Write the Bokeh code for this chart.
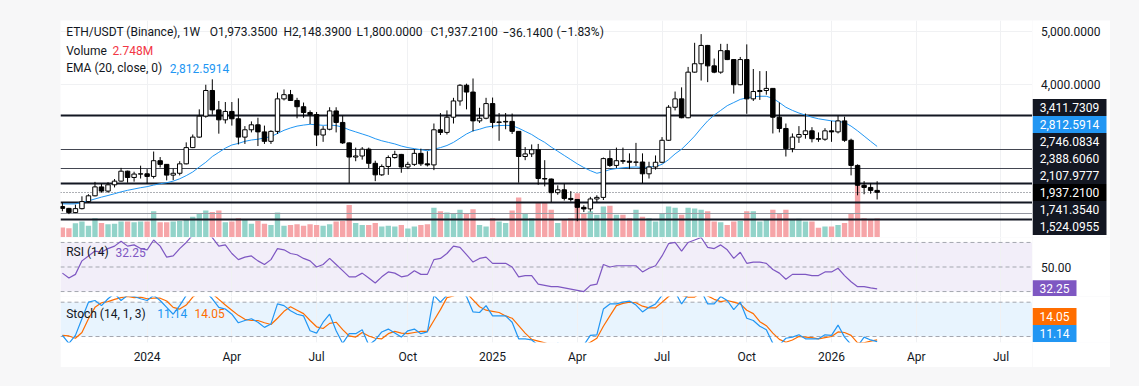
from bokeh.plotting import figure
from bokeh.models import Range1d, FixedTicker, Span, Label, BoxAnnotation, ColumnDataSource, Spacer
from bokeh.layouts import column, row
from bokeh.core.properties import value
from bokeh.embed import file_html
from bokeh.resources import INLINE

# ---------------- data (weekly bars, first bar = week of 2023-10-02) ----------------
first_week = "2023-10-02"
opens = [1665, 1630, 1550, 1625, 1760, 1870, 2040, 1960, 2080, 2150,
         2340, 2220, 2285, 2290, 2240, 2540, 2470, 2265, 2300, 2480,
         2790, 2990, 3390, 3880, 3510, 3320, 3480, 3340, 2990, 3130,
         3225, 3090, 2910, 3100, 3720, 3800, 3690, 3570, 3460, 3420,
         3030, 3140, 3490, 3270, 2880, 2610, 2630, 2760, 2490, 2270,
         2430, 2600, 2660, 2420, 2470, 2680, 2480, 2460, 3130, 3080,
         3370, 3680, 3980, 3850, 3300, 3350, 3630, 3270, 3280, 3290,
         3100, 2620, 2670, 2750, 2200, 2190, 1930, 1985, 1820, 1800,
         1650, 1620, 1810, 1840, 2580, 2450, 2540, 2530, 2510, 2515,
         2290, 2420, 2510, 2930, 3560, 3720, 3360, 4230, 4390, 4740,
         4350, 4230, 4640, 4470, 3990, 4470, 3720, 3860, 3880, 3920,
         3370, 3155, 2770, 2990, 3040, 3110, 2960, 2950, 3110, 3090,
         3300, 2930, 2450, 2070, 2030, 1973.35]
highs = [1745, 1640, 1700, 1860, 1900, 2136, 2100, 2130, 2190, 2403,
         2350, 2330, 2445, 2380, 2715, 2610, 2475, 2390, 2530, 2890,
         3040, 3520, 3990, 4093, 3680, 3660, 3660, 3730, 3200, 3290,
         3360, 3210, 3120, 3840, 3900, 3890, 3740, 3650, 3500, 3470,
         3200, 3560, 3560, 3400, 2890, 2790, 2800, 2790, 2540, 2470,
         2640, 2730, 2670, 2520, 2760, 2770, 2720, 3250, 3450, 3500,
         3740, 4000, 4010, 4109, 3550, 3740, 3745, 3450, 3450, 3440,
         3100, 2800, 2850, 2860, 2550, 2200, 2070, 2100, 1960, 1810,
         1690, 1850, 1880, 2600, 2740, 2790, 2790, 2680, 2880, 2680,
         2520, 2640, 2990, 3600, 3860, 3940, 4330, 4790, 4956, 4750,
         4490, 4770, 4770, 4480, 4520, 4760, 4290, 4250, 4250, 3920,
         3650, 3250, 3060, 3200, 3440, 3180, 3080, 3160, 3300, 3400,
         3380, 2960, 2470, 2150, 2110, 2148.39]
lows = [1575, 1521, 1540, 1610, 1740, 1860, 1930, 1930, 2030, 2140,
        2120, 2140, 2200, 2100, 2200, 2410, 2165, 2170, 2260, 2470,
        2780, 2980, 3360, 3420, 3056, 3250, 3210, 2850, 2860, 3080,
        2820, 2860, 2860, 3050, 3690, 3680, 3350, 3360, 3240, 2820,
        2900, 3120, 3080, 2860, 2111, 2530, 2560, 2400, 2150, 2250,
        2270, 2580, 2310, 2380, 2440, 2440, 2430, 2360, 3030, 3040,
        3250, 3590, 3520, 3100, 3260, 3330, 3160, 2920, 3140, 3050,
        2120, 2550, 2610, 2080, 2050, 1750, 1890, 1780, 1760, 1385,
        1560, 1570, 1750, 1790, 2420, 2400, 2480, 2380, 2440, 2110,
        2200, 2370, 2490, 2920, 3500, 3350, 3350, 4220, 4070, 4040,
        4210, 4200, 4460, 3820, 3980, 3435, 3680, 3700, 3800, 3060,
        3080, 2620, 2700, 2880, 2960, 2890, 2900, 2920, 2900, 3060,
        2900, 2260, 1880, 1900, 1910, 1800.0]
closes = [1630, 1550, 1625, 1760, 1870, 2040, 1960, 2080, 2150, 2340,
          2220, 2285, 2290, 2240, 2540, 2470, 2265, 2300, 2480, 2790,
          2990, 3390, 3880, 3510, 3320, 3480, 3340, 2990, 3130, 3225,
          3090, 2910, 3100, 3720, 3800, 3690, 3570, 3460, 3420, 3030,
          3140, 3490, 3270, 2880, 2610, 2630, 2760, 2490, 2270, 2430,
          2600, 2660, 2420, 2470, 2680, 2480, 2460, 3130, 3080, 3370,
          3680, 3980, 3850, 3300, 3350, 3630, 3270, 3280, 3290, 3100,
          2620, 2670, 2750, 2200, 2190, 1930, 1985, 1820, 1800, 1650,
          1620, 1810, 1840, 2580, 2450, 2540, 2530, 2510, 2515, 2290,
          2420, 2510, 2930, 3560, 3720, 3360, 4230, 4390, 4740, 4350,
          4230, 4640, 4470, 3990, 4470, 3720, 3860, 3880, 3920, 3370,
          3155, 2770, 2990, 3040, 3110, 2960, 2950, 3110, 3090, 3300,
          2930, 2450, 2070, 2030, 1973.35, 1937.21]
volume_m = [1.45, 1.35, 2.07, 2.3, 1.7, 2.8, 2.1, 1.9, 2.0, 2.3,
            2.3, 2.2, 2.3, 2.3, 3.8, 2.2, 2.2, 2.3, 2.4, 2.6,
            3.0, 3.5, 3.9, 3.7, 3.9, 2.2, 2.3, 2.8, 2.6, 2.0,
            2.4, 2.0, 1.8, 3.6, 1.7, 1.8, 1.9, 1.7, 1.9, 1.8,
            1.7, 1.9, 2.3, 2.4, 4.7, 2.1, 1.8, 1.8, 2.1, 1.6,
            1.7, 1.6, 1.8, 1.3, 1.6, 1.8, 1.9, 4.3, 3.8, 3.6,
            3.5, 4.0, 3.4, 4.1, 1.8, 1.6, 2.8, 2.3, 2.1, 3.9,
            5.8, 3.5, 2.8, 5.0, 5.0, 4.0, 2.1, 2.6, 2.8, 6.4,
            3.5, 3.8, 3.3, 4.5, 4.6, 3.3, 3.3, 2.8, 4.0, 3.0,
            2.8, 2.3, 3.4, 4.5, 4.3, 3.3, 4.3, 4.2, 4.0, 3.8,
            2.3, 2.2, 1.8, 2.3, 2.4, 3.8, 3.8, 2.3, 2.6, 4.0,
            3.5, 4.0, 2.6, 2.7, 2.3, 2.3, 1.4, 1.6, 1.6, 1.8,
            2.1, 3.4, 7.5, 2.8, 2.6, 2.748]
ema20 = [1717, 1714, 1716, 1745, 1775, 1810, 1845, 1876, 1910, 1945,
         1975, 2000, 2025, 2045, 2075, 2100, 2120, 2150, 2195, 2255,
         2325, 2420, 2510, 2620, 2700, 2780, 2840, 2870, 2910, 2935,
         2950, 2975, 3000, 3060, 3120, 3165, 3200, 3220, 3235, 3225,
         3215, 3220, 3210, 3180, 3130, 3090, 3050, 3010, 2960, 2920,
         2890, 2860, 2820, 2790, 2770, 2750, 2730, 2760, 2790, 2830,
         2890, 2970, 3050, 3110, 3140, 3180, 3200, 3210, 3215, 3210,
         3160, 3100, 3040, 2960, 2890, 2800, 2720, 2640, 2560, 2480,
         2410, 2350, 2300, 2330, 2370, 2390, 2405, 2415, 2420, 2410,
         2420, 2430, 2470, 2560, 2670, 2760, 2880, 3010, 3160, 3300,
         3410, 3500, 3590, 3650, 3710, 3740, 3760, 3770, 3770, 3730,
         3650, 3560, 3500, 3450, 3410, 3370, 3340, 3320, 3300, 3290,
         3270, 3200, 3110, 3010, 2910, 2812.5914]
rsi14 = [45, 41, 44, 55, 59, 63, 62, 65, 67, 71,
         67, 68, 65, 64, 72, 67, 58, 59, 65, 70,
         76, 80, 83, 74, 67, 68, 61, 56, 58, 59,
         55, 52, 56, 65, 64, 61, 60, 57, 55, 50,
         52, 57, 52, 47, 42, 42, 45, 41, 37, 42,
         46, 45, 42, 43, 47, 44, 44, 56, 57, 61,
         67, 66, 60, 54, 57, 58, 53, 53, 53, 50,
         42, 43, 43, 36, 35, 34, 34, 33, 32, 31,
         30, 35, 36, 52, 50, 51, 51, 51, 51, 46,
         49, 51, 59, 69, 70, 63, 70, 72, 74, 66,
         65, 68, 64, 57, 62, 53, 54, 54, 53, 48,
         45, 40, 44, 44, 44, 43, 43, 46, 46, 49,
         43, 38, 34, 34, 33, 32.25]
stoch_k = [22, 8, 22, 51, 80, 83, 74, 86, 95, 83,
           92, 90, 86, 83, 92, 83, 71, 59, 74, 92,
           100, 100, 98, 86, 71, 68, 59, 44, 48, 51,
           45, 36, 42, 77, 74, 65, 59, 56, 30, 26,
           45, 59, 30, 8, 25, 25, 32, 5, 14, 28,
           33, 26, 19, 30, 33, 25, 28, 92, 80, 92,
           100, 98, 90, 63, 62, 74, 56, 56, 56, 45,
           16, 16, 14, 5, 8, 3, 8, 6, 5, 3,
           5, 22, 23, 68, 77, 77, 80, 82, 75, 63,
           71, 77, 92, 100, 98, 77, 93, 96, 100, 77,
           77, 90, 83, 67, 80, 52, 48, 38, 32, 8,
           5, 17, 19, 23, 16, 16, 16, 23, 22, 40,
           19, 6, 3, 19, 14, 11.14]
stoch_d = [22, 21, 17, 27, 51, 71, 79, 81, 85, 88,
           90, 88, 89, 86, 87, 87, 82, 71, 68, 75,
           89, 97, 99, 95, 85, 75, 66, 57, 50, 48,
           48, 44, 41, 52, 64, 72, 66, 60, 48, 37,
           34, 43, 45, 32, 21, 19, 27, 21, 17, 16,
           25, 29, 26, 25, 27, 29, 29, 48, 67, 88,
           91, 97, 96, 84, 72, 66, 64, 62, 56, 52,
           39, 26, 15, 12, 9, 5, 6, 6, 6, 5,
           4, 10, 17, 38, 56, 74, 78, 80, 79, 73,
           70, 70, 80, 90, 97, 92, 89, 89, 96, 91,
           85, 81, 83, 80, 77, 66, 60, 46, 39, 26,
           15, 10, 14, 20, 19, 18, 16, 18, 20, 28,
           27, 22, 9, 9, 12, 14.05]
thick_levels = [3411.7309, 2107.9777, 1741.3540, 1418.0]
thin_levels = [2746.0834, 2388.6060]
faint_levels = [1524.0955]
price_ticks = [4000, 5000]
rsi_ticks = [50]
tick_index = [13, 26, 39, 53, 66, 79, 92, 105, 118, 131, 144]
tick_labels = ["2024", "Apr", "Jul", "Oct", "2025", "Apr", "Jul", "Oct", "2026", "Apr", "Jul"]

for arr in (opens, highs, lows, closes, volume_m, ema20, rsi14, stoch_k, stoch_d):
    assert len(arr) == len(closes), len(arr)

# ---------------- styling / geometry ----------------
FONT = "Roboto"
FS = "12px"
TXT = "#131722"
NAVY = "#131722"
OUTER = "#f7f7f8"
UP_VOL, DN_VOL = "#92d3c9", "#f6a5a8"
EMA_C, RSI_C, K_C, D_C = "#2196f3", "#7e57c2", "#2196f3", "#ff6d00"
RED = "#f23645"

WIN_W, WIN_H = 1139, 387
FRAME_L, FRAME_R, CARD_R = 60, 1032, 1110
MAIN_T, MAIN_B, RSI_B, ST_B, CARD_B = 20, 237, 296, 342, 367
BAR_PX = 6.518
X_START = -0.29
SCALE_W = CARD_R - FRAME_R


def x_at(px):
    return X_START + (px - FRAME_L) / BAR_PX


def price_at(py):
    return 5000 - (py - 31.3) / 0.0524


def rsi_at(py):
    return 50 - (py - 266.5) / 1.228


def st_at(py):
    return 80 - (py - 301.7) / 0.572


x_range = Range1d(X_START, x_at(FRAME_R))


def make_fig(height, y_range, bottom=0, x_loc=None):
    p = figure(width=FRAME_R - FRAME_L, height=height, x_range=x_range, y_range=y_range,
               output_backend="svg", toolbar_location=None,
               x_axis_location=x_loc, y_axis_location=None,
               min_border=0, min_border_bottom=bottom)
    p.outline_line_color = None
    p.background_fill_color = "white"
    p.border_fill_color = "white"
    p.xgrid.ticker = FixedTicker(ticks=tick_index)
    p.xgrid.grid_line_color = "#f0f1f3"
    p.ygrid.grid_line_color = None
    return p


def make_scale(height, y_range, bottom=0):
    s = figure(width=SCALE_W, height=height, x_range=Range1d(0, SCALE_W), y_range=y_range,
               output_backend="svg", toolbar_location=None,
               x_axis_location=None, y_axis_location=None,
               min_border=0, min_border_bottom=bottom)
    s.outline_line_color = None
    s.background_fill_color = "white"
    s.border_fill_color = "white"
    s.xgrid.visible = False
    s.ygrid.visible = False
    return s


def text(p, x_px, y, s, color=TXT):
    p.add_layout(Label(x=x_at(x_px), y=y, text=s, text_font=FONT, text_font_size=FS,
                       text_color=color, text_align="left", text_baseline="middle"))


def scale_ticks(s, ticks, labels):
    s.text(x=[8.5] * len(ticks), y=ticks, text=labels, text_align="left",
           text_baseline="middle", text_font=value(FONT), text_font_size=value(FS),
           text_color=TXT)


def scale_boxes(s, ys, labels, colors, box_w):
    s.rect(x=[box_w / 2] * len(ys), y=ys, width=box_w, height=17, height_units="screen",
           fill_color=colors, line_color=None)
    s.text(x=[box_w / 2] * len(ys), y=ys, text=labels, text_align="center",
           text_baseline="middle", text_font=value(FONT), text_font_size=value(FS),
           text_color="white")


n = len(closes)
xs = list(range(n))
up = [c >= o for o, c in zip(opens, closes)]
src = ColumnDataSource(dict(
    x=xs, o=opens, h=highs, l=lows, c=closes,
    top=[max(o, c) for o, c in zip(opens, closes)],
    bot=[min(o, c) for o, c in zip(opens, closes)],
    fill=["white" if u else "#000000" for u in up],
    vol=volume_m, vcol=[UP_VOL if u else DN_VOL for u in up],
))

# ---------------- main pane ----------------
main_y = Range1d(price_at(MAIN_B), price_at(MAIN_T))
pm = make_fig(MAIN_B - MAIN_T, main_y)
pm.ygrid.ticker = FixedTicker(ticks=price_ticks)
pm.ygrid.grid_line_color = "#f0f1f3"
VOL_PX_PER_M = 6.91
pm.extra_y_ranges = {"vol": Range1d(0, (MAIN_B - MAIN_T) / VOL_PX_PER_M)}
pm.vbar(x="x", width=0.82, top="vol", bottom=0, y_range_name="vol",
        fill_color="vcol", line_color=None, source=src)
pm.hspan(y=thick_levels, line_width=2, line_color="#131722")
pm.hspan(y=thin_levels, line_width=1, line_color="#434651")
pm.hspan(y=faint_levels, line_width=1, line_color="#9598a1")
pm.hspan(y=[closes[-1]], line_width=1, line_color="#5d606b", line_dash="1 2")
pm.line(xs, ema20, line_color=EMA_C, line_width=1)
pm.segment(x0="x", y0="l", x1="x", y1="h", line_color="#000000", line_width=1, source=src)
pm.vbar(x="x", width=0.68, top="top", bottom="bot", fill_color="fill",
        line_color="#000000", line_width=1, source=src)

chg = closes[-1] - opens[-1]
pct = chg / opens[-1] * 100
text(pm, 65.7, price_at(31.7), "ETH/USDT (Binance), 1W")
text(pm, 209.3, price_at(31.7), f"O{opens[-1]:,.4f}")
text(pm, 283, price_at(31.7), f"H{highs[-1]:,.4f}")
text(pm, 356, price_at(31.7), f"L{lows[-1]:,.4f}")
text(pm, 430, price_at(31.7), f"C{closes[-1]:,.4f}")
text(pm, 502, price_at(31.7), f"{chg:.4f}".replace("-", "\u2212"))
text(pm, 556, price_at(31.7), f"({pct:.2f}%)".replace("-", "\u2212"))
text(pm, 65.7, price_at(50), "Volume")
text(pm, 112, price_at(50), f"{volume_m[-1]:.3f}M", RED)
text(pm, 65.7, price_at(67.8), "EMA (20, close, 0)")
text(pm, 169.3, price_at(67.8), f"{ema20[-1]:,.4f}", EMA_C)

sm = make_scale(MAIN_B - MAIN_T, main_y)
scale_ticks(sm, price_ticks, [f"{t:,.4f}" for t in price_ticks])
scale_vals = [thick_levels[0], ema20[-1], thin_levels[0], thin_levels[1],
              thick_levels[1], closes[-1], thick_levels[2], faint_levels[0]]
scale_cols = [NAVY, "#2196f3", NAVY, NAVY, NAVY, "#000000", NAVY, NAVY]
scale_boxes(sm, [price_at(107 + 17 * k) for k in range(len(scale_vals))],
            [f"{v:,.4f}" for v in scale_vals], scale_cols, 74)

# ---------------- RSI pane ----------------
rsi_y = Range1d(rsi_at(RSI_B), rsi_at(MAIN_B))
pr = make_fig(RSI_B - MAIN_B, rsi_y)
pr.add_layout(BoxAnnotation(bottom=30, top=70, fill_color=RSI_C, fill_alpha=0.1,
                            line_color=None, level="image"))
for lv in (70, 50, 30):
    pr.add_layout(Span(location=lv, dimension="width", line_color="#a3a6af",
                       line_dash="4 3", line_width=1, level="underlay"))
pr.line(xs, rsi14, line_color=RSI_C, line_width=1.2)
text(pr, 65.7, rsi_at(251.7), "RSI (14)")
text(pr, 115, rsi_at(251.7), f"{rsi14[-1]:.2f}", RSI_C)

sr = make_scale(RSI_B - MAIN_B, rsi_y)
scale_ticks(sr, rsi_ticks, [f"{t:.2f}" for t in rsi_ticks])
scale_boxes(sr, [rsi14[-1]], [f"{rsi14[-1]:.2f}"], [RSI_C], 44)

# ---------------- Stoch pane ----------------
st_y = Range1d(st_at(ST_B), st_at(RSI_B))
ps = make_fig(CARD_B - RSI_B, st_y, bottom=CARD_B - ST_B, x_loc="below")
ps.add_layout(BoxAnnotation(bottom=20, top=80, fill_color=K_C, fill_alpha=0.1,
                            line_color=None, level="image"))
for lv in (80, 20):
    ps.add_layout(Span(location=lv, dimension="width", line_color="#a3a6af",
                       line_dash="4 3", line_width=1, level="underlay"))
ps.line(xs, stoch_d, line_color=D_C, line_width=1.2)
ps.line(xs, stoch_k, line_color=K_C, line_width=1.2)
text(ps, 65.7, st_at(313.3), "Stoch (14, 1, 3)")
text(ps, 156.7, st_at(313.3), f"{stoch_k[-1]:.2f}", K_C)
text(ps, 194, st_at(313.3), f"{stoch_d[-1]:.2f}", D_C)

xa = ps.xaxis[0]
xa.ticker = FixedTicker(ticks=tick_index)
xa.major_label_overrides = {t: s for t, s in zip(tick_index, tick_labels)}
xa.axis_line_color = None
xa.major_tick_line_color = None
xa.minor_tick_line_color = None
xa.major_tick_out = 0
xa.major_label_standoff = 7
xa.major_label_text_font = FONT
xa.major_label_text_font_size = FS
xa.major_label_text_color = TXT

ss = make_scale(CARD_B - RSI_B, st_y, bottom=CARD_B - ST_B)
box_y, box_t, box_c = [], [], []
prev = ST_B - 9 + 17
for v, col in sorted([(stoch_k[-1], K_C), (stoch_d[-1], D_C)]):
    y_px = min(301.7 - (v - 80) * 0.572, prev - 17)
    prev = y_px
    box_y.append(st_at(y_px))
    box_t.append(f"{v:.2f}")
    box_c.append(col)
scale_boxes(ss, box_y, box_t, box_c, 44)

card = column(row(pm, sm, spacing=0), row(pr, sr, spacing=0), row(ps, ss, spacing=0), spacing=0)
layout = column(
    Spacer(width=WIN_W, height=MAIN_T),
    row(Spacer(width=FRAME_L, height=CARD_B - MAIN_T), card,
        Spacer(width=WIN_W - CARD_R, height=CARD_B - MAIN_T), spacing=0),
    Spacer(width=WIN_W, height=WIN_H - CARD_B - 1),
    spacing=0, styles={"background-color": OUTER},
)
open("out.html", "w").write(file_html(layout, INLINE))
